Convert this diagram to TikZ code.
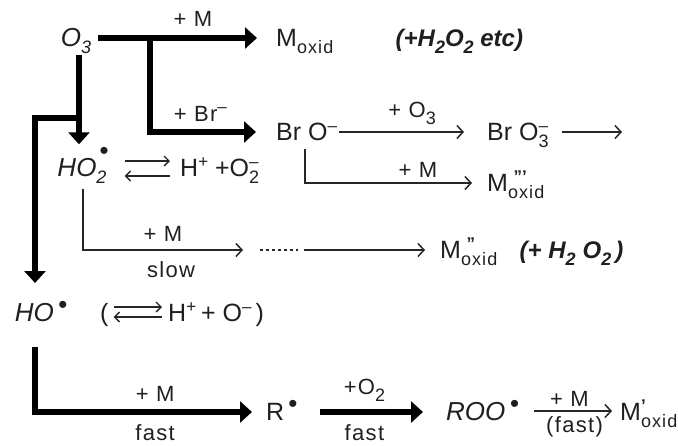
\documentclass[tikz,border=0pt]{standalone}
\usepackage{fontspec}
\setmainfont{Liberation Sans}
\usepackage{tikz}
\usetikzlibrary{positioning, arrows.meta}
\newcommand{\lowtxt}[1]{\raisebox{-7pt}{\fontsize{18}{18}\selectfont\addfontfeature{LetterSpace=6}#1}}
\newcommand{\uptxt}[1]{\raisebox{9pt}{\fontsize{17}{17}\selectfont #1}}
\newcommand{\lowup}[2]{\rlap{\uptxt{#1}}\lowtxt{#2}}
\newcommand{\rdot}{\raisebox{8pt}{\fontsize{26}{26}\selectfont\textbullet}}

\begin{document}
\begin{tikzpicture}[
    x=1pt, y=-1pt,
    font=\fontsize{25}{27}\selectfont, node distance=10pt and 20pt,
    spec/.style={inner sep=0pt, text height=17pt, text depth=0pt, text=black!88},
    note/.style={spec, font=\fontsize{26}{28}\selectfont\itshape},
    aside/.style={spec, font=\fontsize{24}{26}\selectfont\bfseries\itshape},
    lab/.style={inner sep=2pt, text=black!88, font=\fontsize{22}{24}\selectfont\addfontfeature{LetterSpace=6}},
    heavy/.style={-{Triangle[length=12pt, width=21pt]}, line width=6.5pt, black},
    slim/.style={-{Straight Barb[length=6pt, width=13pt]}, line width=1.5pt, black!85},
    eqarr/.style={-{Straight Barb[length=5pt, width=10pt]}, line width=1.3pt, black!85}]
    \useasboundingbox (0,0) rectangle (678,445);
    % species, top to bottom
    \node[note] (o3) at (76,38) {O\lowtxt{3}};
    \node[spec, anchor=west] (moxid) at (276,38) {M\lowtxt{oxid}};
    \node[aside, right=62pt of moxid] (etcnote) {(+H\lowtxt{2}O\lowtxt{2} etc)};
    \node[spec, anchor=west] (bro) at (276,132) {Br O\uptxt{--}};
    \node[spec, anchor=west] (broiii) at (487,132) {Br O\lowup{--}{3}};
    \node[spec, anchor=west] (mthree) at (487,183) {M\lowup{\,\,\textbf{'''}}{oxid}};
    \node[note] (hoii) at (82,168) {HO\lowup{\,\rdot}{2}};
    \node[spec, anchor=west] (ionsa) at (180,168) {H\uptxt{+} +O\lowup{--}{2}};
    \node[spec, anchor=west] (mtwo) at (440,250) {M\lowup{\,\,\textbf{''}}{oxid}};
    \node[aside, right=22pt of mtwo] (hiinote) {(+ H\lowtxt{2}\hspace{7pt}O\lowtxt{2}\,)};
    \node[note] (ho) at (41,313) {HO\,\rdot};
    \node[spec, anchor=west] (lparen) at (100,313) {(};
    \node[spec, anchor=west] (ionsb) at (168,313) {H\uptxt{+}\hspace{-2pt} + O\uptxt{--}\hspace{-3pt} )};
    \node[spec, anchor=west] (rad) at (266,412) {R\,\rdot};
    \node[note, anchor=west] (roo) at (446,412) {ROO\,\rdot};
    \node[spec, anchor=west] (mone) at (620,412) {M\lowup{\textbf{'}}{oxid}};
    % corners and free ends
    \coordinate (splitbr) at (150,38);
    \coordinate (cornerbr) at (150,132);
    \coordinate (splitho) at (79,118);
    \coordinate (cornerho) at (35,118);
    \coordinate (endho) at (35,283);
    \coordinate (endbr) at (622,132);
    \coordinate (cornerm) at (305,183);
    \coordinate (cornerslow) at (83,250);
    \coordinate (gapa) at (243,250);
    \coordinate (gapb) at (298,250);
    \coordinate (gapc) at (304,250);
    \coordinate (topfast) at (35,347);
    \coordinate (cornerfast) at (35,412);
    % heavy arrows
    \draw[heavy, shorten <=7pt, shorten >=19pt] (o3.east |- moxid) --
      node[lab, above=6pt, pos=0.55]{+ M} (moxid.west);
    \draw[heavy, shorten >=20pt] (splitbr) -- (cornerbr) --
      node[lab, above=5pt, pos=0.4]{+ Br\uptxt{--}} (bro.west);
    \draw[heavy, shorten <=8pt, shorten >=15pt] (o3.south -| splitho) -- (splitho |- hoii.north);
    \draw[heavy] (splitho) -- (cornerho) -- (endho);
    \draw[heavy, shorten >=14pt] (topfast) -- (cornerfast) --
      node[lab, above=5pt, pos=0.52]{+ M}
      node[lab, below=7pt, pos=0.52]{fast} (rad.west);
    \draw[heavy, shorten <=22pt, shorten >=23pt] (rad.east) --
      node[lab, above=5pt, pos=0.45]{+O\lowtxt{2}}
      node[lab, below=7pt, pos=0.45]{fast} (roo.west);
    % slim arrows
    \draw[slim, shorten <=2pt, shorten >=23pt] (bro.east) --
      node[lab, above=5pt, pos=0.5]{+ O\lowtxt{3}} (broiii.west);
    \draw[slim, shorten <=13pt] (broiii.east) -- (endbr);
    \draw[slim, shorten <=8pt, shorten >=15pt] (bro.south -| cornerm) -- (cornerm) --
      node[lab, above=3pt, pos=0.62]{+ M} (mthree.west);
    \draw[slim, shorten <=12pt] (hoii.south -| cornerslow) -- (cornerslow) --
      node[lab, above=6pt, pos=0.5]{+ M}
      node[lab, below=9pt, pos=0.55]{slow} (gapa);
    \draw[line width=1.5pt, black!85, dash pattern=on 3pt off 3pt, shorten <=17pt] (gapa) -- (gapb);
    \draw[slim, shorten >=15pt] (gapc) -- (mtwo.west);
    \draw[slim, shorten <=15pt, shorten >=8pt] ([yshift=1pt]roo.east) --
      node[lab, above=2pt, pos=0.5]{+ M}
      node[lab, below=3pt, pos=0.55]{(fast)} ([yshift=1pt]mone.west);
    % equilibria
    \draw[eqarr, shorten <=18pt, shorten >=10pt] ([yshift=7pt]hoii.east) -- ([yshift=7pt]ionsa.west);
    \draw[eqarr, shorten <=10pt, shorten >=18pt] ([yshift=-8pt]ionsa.west) -- ([yshift=-8pt]hoii.east);
    \draw[eqarr, shorten <=5pt, shorten >=6pt] ([yshift=6pt]lparen.east) -- ([yshift=6pt]ionsb.west);
    \draw[eqarr, shorten <=6pt, shorten >=5pt] ([yshift=-4pt]ionsb.west) -- ([yshift=-4pt]lparen.east);
\end{tikzpicture}
\end{document}
